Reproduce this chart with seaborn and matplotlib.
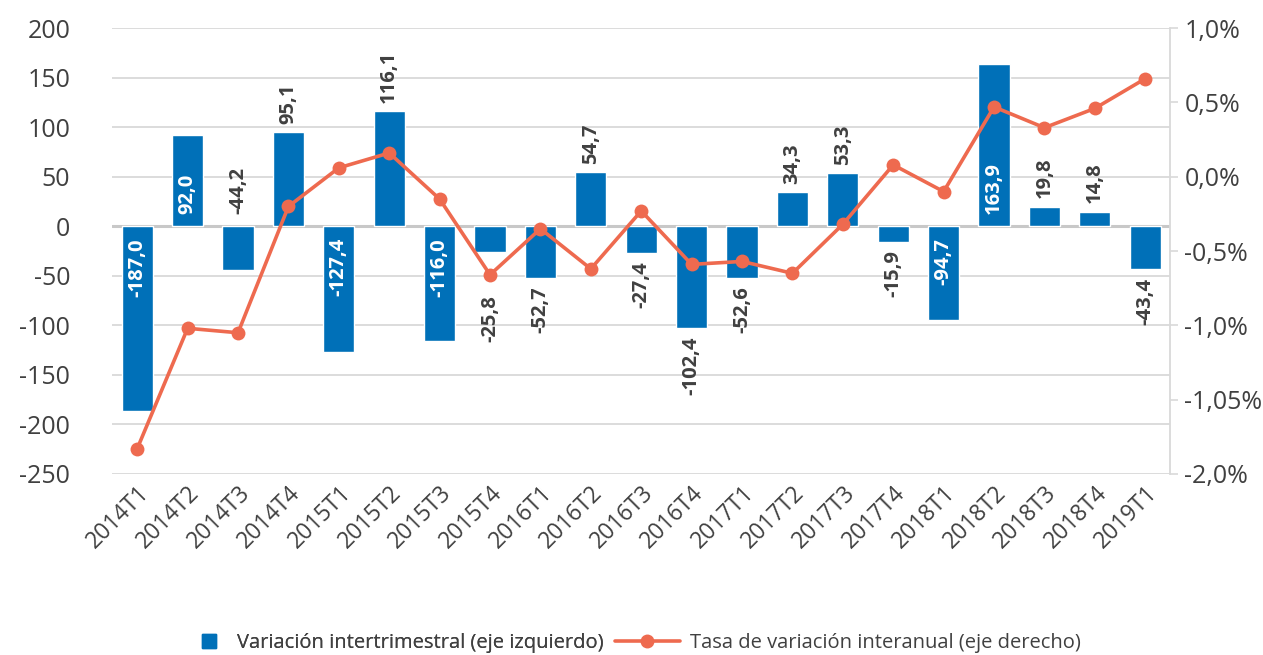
import numpy as np
import pandas as pd
import matplotlib
matplotlib.use("Agg")
import matplotlib.pyplot as plt
from matplotlib.lines import Line2D
import seaborn as sns

# ---- data ----
quarters = ["2014T1", "2014T2", "2014T3", "2014T4", "2015T1", "2015T2", "2015T3",
            "2015T4", "2016T1", "2016T2", "2016T3", "2016T4", "2017T1", "2017T2",
            "2017T3", "2017T4", "2018T1", "2018T2", "2018T3", "2018T4", "2019T1"]
var_intertrimestral = [-187.0, 92.0, -44.2, 95.1, -127.4, 116.1, -116.0, -25.8, -52.7,
                       54.7, -27.4, -102.4, -52.6, 34.3, 53.3, -15.9, -94.7, 163.9,
                       19.8, 14.8, -43.4]
tasa_interanual = [-1.83, -1.02, -1.05, -0.20, 0.06, 0.16, -0.15, -0.66, -0.35, -0.62,
                   -0.23, -0.59, -0.57, -0.65, -0.32, 0.08, -0.10, 0.47, 0.33, 0.46, 0.66]
left_ticks = [200, 150, 100, 50, 0, -50, -100, -150, -200, -250]
right_ticks = [1.0, 0.5, 0.0, -0.5, -1.0, -1.5, -2.0]
right_tick_labels = ["1,0%", "0,5%", "0,0%", "-0,5%", "-1,0%", "-1,05%", "-2,0%"]
legend_labels = ["Variación intertrimestral (eje izquierdo)",
                 "Tasa de variación interanual (eje derecho)"]

# label placement (style): inside near base, outside end, or above zero
inside_idx = {0, 1, 4, 6, 16, 17}
above_zero_idx = {2}
extra_offset = {7: 25}

BLUE = "#0070B8"
ORANGE = "#EE6A4F"
TXT = "#404040"
GRID = "#D9D9D9"

sns.set_theme(style="white")
plt.rcParams["font.family"] = ["Open Sans", "DejaVu Sans"]

df = pd.DataFrame({"q": quarters, "v": var_intertrimestral, "t": tasa_interanual})

fig = plt.figure(figsize=(12.63, 6.55), dpi=100)
ax = fig.add_axes([0.0887, 0.2765, 0.8380, 0.6805])

sns.barplot(data=df, x="q", y="v", color=BLUE, saturation=1, width=0.62, ax=ax, zorder=3)
ax.set_ylim(-250, 200)
ax.set_yticks(left_ticks)
ax.set_yticklabels([str(t) for t in left_ticks])
ax.yaxis.grid(True, color=GRID, linewidth=1.3, zorder=0)
ax.axhline(0, color="#C8C8C8", linewidth=2.2, zorder=2)
for s in ["left", "top", "bottom", "right"]:
    ax.spines[s].set_visible(False)
ax.tick_params(axis="y", length=0, labelsize=18, colors=TXT, pad=30)
ax.tick_params(axis="x", length=0, labelsize=16.5, colors=TXT, pad=5)
plt.setp(ax.get_xticklabels(), rotation=45, ha="right", rotation_mode="anchor")
ax.set_xlabel("")
ax.set_ylabel("")
ax.set_xlim(-0.5, len(quarters) - 0.5)

# bar labels
for i, v in enumerate(var_intertrimestral):
    txt = f"{v:.1f}".replace(".", ",")
    if i in inside_idx:
        color = "white"
        xy = (i, 0)
        off = 8.5 if v > 0 else -8.5
    elif i in above_zero_idx:
        color = TXT
        xy = (i, 0)
        off = 8.5
    else:
        color = TXT
        xy = (i, v)
        off = 6 if v > 0 else -6
        off += np.sign(off) * extra_offset.get(i, 0)
    ax.annotate(txt, xy=xy, xytext=(0, off), textcoords="offset points",
                rotation=90, ha="center", va="bottom" if off > 0 else "top",
                fontsize=14.5, fontweight="bold", color=color, zorder=6)

# right axis line
ax2 = ax.twinx()
sns.lineplot(x=np.arange(len(quarters)), y=df["t"], ax=ax2, color=ORANGE, linewidth=2.6,
             marker="o", markersize=10, markeredgewidth=0, zorder=5)
ax2.set_ylim(-2.0, 1.0)
ax2.set_yticks(right_ticks)
ax2.set_yticklabels(right_tick_labels)
ax2.set_ylabel("")
for s in ["left", "top", "bottom"]:
    ax2.spines[s].set_visible(False)
ax2.spines["right"].set_color(GRID)
ax2.spines["right"].set_linewidth(1.3)
ax2.tick_params(axis="y", length=6, width=1.2, color=GRID, labelsize=18, colors=TXT, pad=4)
ax2.grid(False)

h_bar = Line2D([0], [0], marker="s", linestyle="none", color=BLUE, markersize=10)
h_line = Line2D([0], [0], marker="o", color=ORANGE, linewidth=2.6, markersize=9)
leg1 = fig.legend([h_bar], [legend_labels[0]], loc="center left",
                  bbox_to_anchor=(0.153, 0.018), frameon=False, fontsize=14.5,
                  labelcolor=TXT, handlelength=1.6, handletextpad=0.55,
                  borderpad=0, borderaxespad=0)
fig.add_artist(leg1)
fig.legend([h_line], [legend_labels[1]], loc="center left",
           bbox_to_anchor=(0.487, 0.018), frameon=False, fontsize=14.5,
           labelcolor=TXT, handlelength=3.2, handletextpad=0.5,
           borderpad=0, borderaxespad=0)

fig.savefig("out.png", dpi=100)
